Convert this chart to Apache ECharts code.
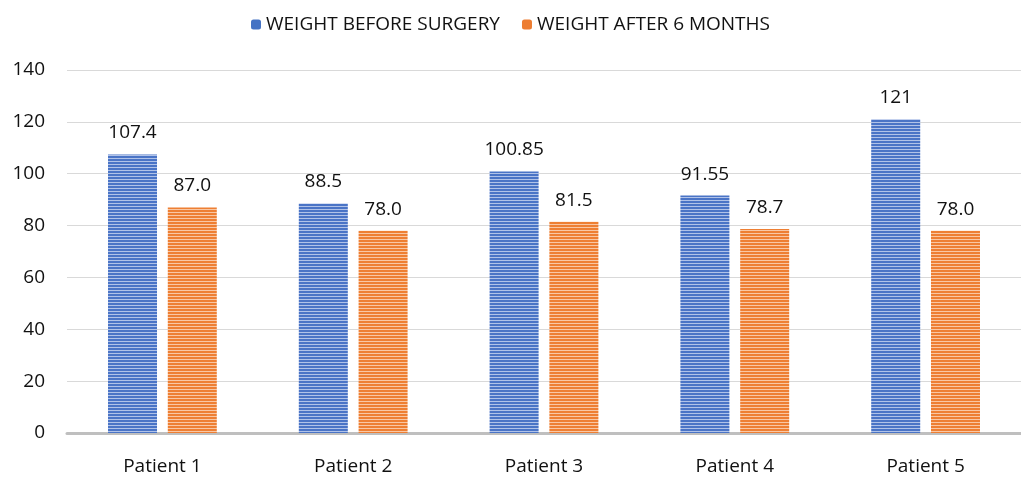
<!DOCTYPE html>
<html><head><meta charset="utf-8">
<script src="https://cdn.jsdelivr.net/npm/echarts@6/dist/echarts.min.js"></script>
<style>html,body{margin:0;padding:0;background:#fff}#c{width:1021px;height:482px}</style>
</head><body><div id="c"></div>
<script>
const categories = ['Patient 1','Patient 2','Patient 3','Patient 4','Patient 5'];
const seriesNames = ['WEIGHT BEFORE SURGERY','WEIGHT AFTER 6 MONTHS'];
const before = [107.4, 88.5, 100.85, 91.55, 121];
const after = [87.0, 78.0, 81.5, 78.7, 78.0];
const beforeLabels = ['107.4','88.5','100.85','91.55','121'];
const afterLabels = ['87.0','78.0','81.5','78.7','78.0'];

function stripe(dark, light){
  const c = document.createElement('canvas');
  c.width = 4; c.height = 3;
  const g = c.getContext('2d');
  g.fillStyle = dark; g.fillRect(0,0,4,2);
  g.fillStyle = light; g.fillRect(0,2,4,1);
  return {image: c, repeat: 'repeat'};
}
const blueFill = stripe('#4a74c6', '#b0c2e8');
const orangeFill = stripe('#ee7f33', '#f9c7a4');
const font = 'Open Sans, Liberation Sans, sans-serif';
const txt = '#111';

const chart = echarts.init(document.getElementById('c'));
chart.setOption({
  animation: false,
  legend: {
    top: 10, left: 'center', itemGap: 22, itemWidth: 10, itemHeight: 10,
    textStyle: {fontFamily: font, fontSize: 19, color: txt},
    data: [{name: seriesNames[0], itemStyle: {color: '#4472c4'}}, {name: seriesNames[1], itemStyle: {color: '#ed7d31'}}]
  },
  grid: {left: 67, right: 0, top: 70, bottom: 49},
  xAxis: {
    type: 'category', data: categories,
    axisLine: {lineStyle: {color: '#bfbfbf', width: 3}},
    axisTick: {show: false},
    axisLabel: {fontFamily: font, fontSize: 19, color: txt, margin: 24}
  },
  yAxis: {
    type: 'value', min: 0, max: 140, interval: 20,
    axisLine: {show: false}, axisTick: {show: false},
    axisLabel: {fontFamily: font, fontSize: 19, color: txt, margin: 22},
    splitLine: {lineStyle: {color: '#d9d9d9', width: 1}}
  },
  series: [
    {name: seriesNames[0], type: 'bar', data: before, barWidth: 49, barGap: '22%',
     itemStyle: {color: blueFill},
     label: {show: true, position: 'top', distance: 12, fontFamily: font, fontSize: 19, color: txt,
       formatter: p => beforeLabels[p.dataIndex]}},
    {name: seriesNames[1], type: 'bar', data: after, barWidth: 49,
     itemStyle: {color: orangeFill},
     label: {show: true, position: 'top', distance: 12, fontFamily: font, fontSize: 19, color: txt,
       formatter: p => afterLabels[p.dataIndex]}}
  ]
});
</script></body></html>
